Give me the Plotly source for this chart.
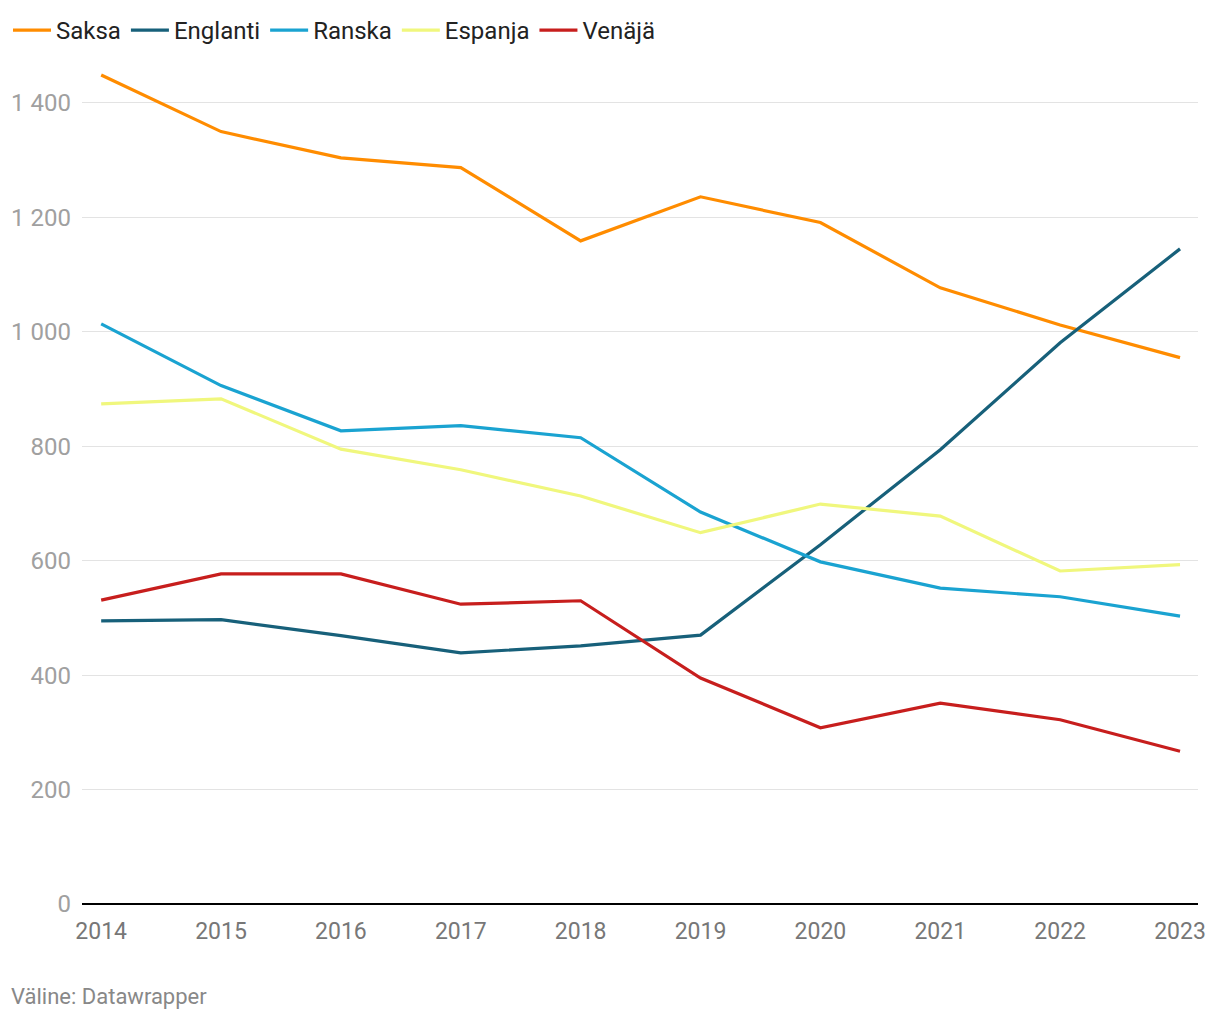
import plotly.graph_objects as go

years = [2014, 2015, 2016, 2017, 2018, 2019, 2020, 2021, 2022, 2023]
saksa = [1449, 1350, 1304, 1287, 1159, 1236, 1191, 1077, 1012, 955]
englanti = [495, 497, 469, 439, 451, 470, 628, 794, 981, 1145]
ranska = [1014, 906, 827, 836, 815, 685, 598, 552, 537, 503]
espanja = [874, 883, 795, 759, 713, 649, 699, 678, 582, 593]
venaja = [531, 577, 577, 524, 530, 395, 308, 351, 322, 267]

series_names = ["Saksa", "Englanti", "Ranska", "Espanja", "Venäjä"]
series_values = [saksa, englanti, ranska, espanja, venaja]
colors = ["#ff8c00", "#17607a", "#1aa3d1", "#f0f77d", "#c71e1d"]

y_tickvals = [0, 200, 400, 600, 800, 1000, 1200, 1400]
y_ticktext = ["0", "200", "400", "600", "800", "1 000", "1 200", "1 400"]

W, H = 1212, 1012
L, R, T, B = 74, 22, 0, 116
PW, PH = W - L - R, H - T - B

fig = go.Figure()
for name, vals, col in zip(series_names, series_values, colors):
    fig.add_trace(go.Scatter(x=years, y=vals, name=name, mode="lines",
                             line=dict(color=col, width=3.2)))

fig.update_layout(
    width=W, height=H,
    paper_bgcolor="white", plot_bgcolor="white",
    margin=dict(l=L, r=R, t=T, b=B, autoexpand=False),
    font=dict(family="Roboto", size=24, color="#222"),
    legend=dict(orientation="h", xref="container", yref="paper",
                x=0.0, y=1.0, xanchor="left", yanchor="top",
                font=dict(size=24, color="#222"), itemwidth=38,
                bgcolor="rgba(0,0,0,0)", traceorder="normal"),
    showlegend=True,
    xaxis=dict(range=[2013.84, 2023.15], tickvals=years,
               ticktext=[str(y) for y in years],
               showgrid=False, zeroline=False, showline=False,
               ticks="", tickfont=dict(color="#777", size=23),
               ticklabelstandoff=11),
    yaxis=dict(range=[0, 1566], tickvals=y_tickvals, ticktext=y_ticktext,
               showgrid=True, gridcolor="#e3e3e3", gridwidth=1,
               zeroline=True, zerolinecolor="#000", zerolinewidth=2,
               showline=False, ticks="",
               tickfont=dict(color="#a0a0a0", size=24),
               ticklabelstandoff=10),
    annotations=[dict(text="Väline: Datawrapper", xref="paper", yref="paper",
                      x=(1 - L) / PW, y=-(988 - (T + PH)) / PH,
                      xanchor="left", yanchor="middle",
                      showarrow=False, font=dict(size=22, color="#888"))],
)

fig.write_html("out.html")
